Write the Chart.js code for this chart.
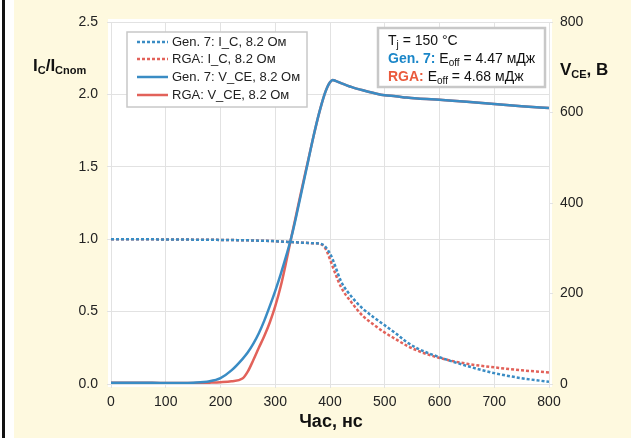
<!DOCTYPE html>
<html>
<head>
<meta charset="utf-8">
<script src="https://cdn.jsdelivr.net/npm/chart.js@4.4.1/dist/chart.umd.min.js"></script>
<style>
  html, body { margin: 0; padding: 0; background: #fef9df; }
  #wrap { width: 631px; height: 438px; position: relative; }
</style>
</head>
<body>
<div id="wrap"><canvas id="chart" width="631" height="438"></canvas></div>
<script>
// Час, нс
const timeNs = [0, 50, 100, 150, 180, 200, 220, 240, 250, 260, 270, 280, 290, 300, 310, 320, 330, 340, 350, 360,
                370, 380, 390, 395, 400, 405, 410, 420, 440, 460, 480, 500, 520, 540, 560, 600, 650, 700, 750, 800];

// I_C / I_Cnom
const gen7Ic = [1.0, 1.0, 0.998, 0.997, 0.996, 0.995, 0.994, 0.993, 0.992, 0.991, 0.99, 0.989, 0.988, 0.986, 0.984, 0.982, 0.98, 0.978, 0.976, 0.974,
                0.972, 0.97, 0.955, 0.93, 0.9, 0.86, 0.81, 0.71, 0.6, 0.52, 0.46, 0.405, 0.35, 0.29, 0.245, 0.185, 0.125, 0.075, 0.04, 0.015];
const rgaIc  = [1.0, 1.0, 0.998, 0.997, 0.996, 0.995, 0.994, 0.993, 0.992, 0.991, 0.99, 0.989, 0.988, 0.986, 0.984, 0.982, 0.98, 0.978, 0.976, 0.974,
                0.972, 0.97, 0.945, 0.91, 0.86, 0.81, 0.76, 0.67, 0.56, 0.47, 0.41, 0.355, 0.31, 0.265, 0.23, 0.18, 0.14, 0.115, 0.095, 0.08];

// V_CE, B
const gen7Vce = [3, 3, 2, 3, 6, 13, 30, 55, 70, 89, 112, 140, 172, 206, 243, 283, 327, 380, 436, 492,
                 548, 598, 640, 656, 667, 672, 670, 665, 656, 649, 643, 638, 636, 633, 631, 628, 624, 619, 614, 610];
const rgaVce  = [3, 3, 2, 2, 3, 4, 6, 12, 28, 53, 80, 106, 136, 172, 216, 270, 328, 384, 440, 494,
                 548, 598, 640, 656, 667, 672, 670, 665, 656, 649, 643, 638, 636, 633, 631, 628, 624, 619, 614, 610];

const xTicks = [0, 100, 200, 300, 400, 500, 600, 700, 800];
const leftTicks = [0, 0.5, 1.0, 1.5, 2.0, 2.5];
const rightTicks = [0, 200, 400, 600, 800];

const seriesNames = ['Gen. 7: I_C, 8.2 Ом', 'RGA: I_C, 8.2 Ом', 'Gen. 7: V_CE, 8.2 Ом', 'RGA: V_CE, 8.2 Ом'];

const BLUE = '#3a8cc4';
const RED = '#e2625a';
const FONT = '"Liberation Sans Narrow", "Liberation Sans", Arial, sans-serif';

const pts = (vals) => timeNs.map((t, i) => ({ x: t, y: vals[i] }));

// фон, белое поле графика, полоса слева
const backgroundPlugin = {
    id: 'bg',
    beforeDraw(chart) {
        const { ctx, chartArea: a } = chart;
        ctx.save();
        ctx.fillStyle = '#fef9df';
        ctx.fillRect(0, 0, chart.width, chart.height);
        ctx.fillStyle = '#ffffff';
        ctx.fillRect(0, 0, 14, chart.height);
        ctx.fillStyle = '#111';
        ctx.fillRect(2, 0, 3, chart.height);
        ctx.fillStyle = '#ffffff';
        ctx.fillRect(a.left - 3, a.top - 3, a.right - a.left + 6, a.bottom - a.top + 6);
        ctx.restore();
    }
};

// текст с нижними индексами
function richText(ctx, x, y, parts) {
    let cx = x;
    parts.forEach(p => {
        ctx.font = p.font;
        ctx.fillStyle = p.color || '#111';
        ctx.fillText(p.text, cx, y + (p.dy || 0));
        cx += ctx.measureText(p.text).width;
    });
}

const overlayPlugin = {
    id: 'overlay',
    afterDraw(chart) {
        const { ctx } = chart;
        ctx.save();
        ctx.textBaseline = 'alphabetic';
        ctx.textAlign = 'left';

        // подписи осей
        const b16 = 'bold 17px ' + FONT, b11 = 'bold 11px ' + FONT;
        richText(ctx, 33, 71, [
            { text: 'I', font: b16 }, { text: 'C', font: b11, dy: 3 },
            { text: '/I', font: b16 }, { text: 'Cnom', font: b11, dy: 3 }
        ]);
        richText(ctx, 560, 75, [
            { text: 'V', font: b16 }, { text: 'CE', font: b11, dy: 3 }, { text: ', B', font: b16 }
        ]);
        ctx.font = 'bold 18px ' + FONT;
        ctx.textAlign = 'center';
        ctx.fillStyle = '#111';
        ctx.fillText('Час, нс', 331, 427);
        ctx.textAlign = 'left';

        // легенда
        ctx.fillStyle = '#ffffff';
        ctx.strokeStyle = '#c8c8c8';
        ctx.lineWidth = 1.5;
        ctx.fillRect(127, 32, 180, 75);
        ctx.strokeRect(127, 32, 180, 75);
        const rows = [42, 59, 77, 95];
        chart.data.datasets.forEach((ds, i) => {
            const y = rows[i];
            ctx.beginPath();
            ctx.strokeStyle = ds.borderColor;
            ctx.lineWidth = ds.borderWidth;
            ctx.setLineDash(ds.borderDash || []);
            ctx.moveTo(137, y);
            ctx.lineTo(168, y);
            ctx.stroke();
            ctx.setLineDash([]);
            ctx.font = '13px ' + FONT;
            ctx.fillStyle = '#222';
            ctx.textBaseline = 'middle';
            ctx.fillText(ds.label, 172, y);
        });
        ctx.textBaseline = 'alphabetic';

        // параметры
        ctx.fillStyle = '#ffffff';
        ctx.strokeStyle = '#c8c8c8';
        ctx.fillRect(378, 28, 167, 59);
        ctx.strokeRect(378, 28, 167, 59);
        const r14 = '14px ' + FONT, r10 = '10px ' + FONT, bold14 = 'bold 14px ' + FONT;
        richText(ctx, 388, 45, [
            { text: 'T', font: r14 }, { text: 'j', font: r10, dy: 3 }, { text: ' = 150 °C', font: r14 }
        ]);
        richText(ctx, 388, 63, [
            { text: 'Gen. 7: ', font: bold14, color: '#1a86c8' },
            { text: 'E', font: r14 }, { text: 'off', font: r10, dy: 3 }, { text: ' = 4.47 мДж', font: r14 }
        ]);
        richText(ctx, 388, 81, [
            { text: 'RGA: ', font: bold14, color: '#ea5a3c' },
            { text: 'E', font: r14 }, { text: 'off', font: r10, dy: 3 }, { text: ' = 4.68 мДж', font: r14 }
        ]);
        ctx.restore();
    }
};

const tickFont = { family: FONT, size: 14 };

new Chart(document.getElementById('chart'), {
    type: 'line',
    data: {
        datasets: [
            { label: seriesNames[0], data: pts(gen7Ic), yAxisID: 'y', borderColor: BLUE, borderWidth: 2.5, borderDash: [3, 2] },
            { label: seriesNames[1], data: pts(rgaIc), yAxisID: 'y', borderColor: RED, borderWidth: 2.5, borderDash: [3, 2] },
            { label: seriesNames[2], data: pts(gen7Vce), yAxisID: 'y2', borderColor: BLUE, borderWidth: 2.5 },
            { label: seriesNames[3], data: pts(rgaVce), yAxisID: 'y2', borderColor: RED, borderWidth: 2.5 }
        ]
    },
    options: {
        responsive: false,
        animation: false,
        layout: { padding: { top: 22, left: 0, right: 0, bottom: 0 } },
        elements: {
            point: { radius: 0 },
            line: { cubicInterpolationMode: 'monotone', fill: false }
        },
        plugins: { legend: { display: false }, tooltip: { enabled: false } },
        scales: {
            x: {
                type: 'linear', min: 0, max: 800,
                afterBuildTicks: s => { s.ticks = xTicks.map(v => ({ value: v })); },
                afterFit: s => { s.height = 54; },
                grid: { color: '#e2e2e2', tickLength: 4 },
                border: { display: false },
                ticks: { color: '#222', font: tickFont, padding: 6, maxRotation: 0 }
            },
            y: {
                position: 'left', min: 0, max: 2.5,
                afterBuildTicks: s => { s.ticks = leftTicks.map(v => ({ value: v })); },
                afterFit: s => { s.width = 111; },
                grid: { color: '#e2e2e2', tickLength: 4 },
                border: { display: false },
                ticks: { color: '#222', font: tickFont, padding: 9, callback: v => v.toFixed(1) }
            },
            y2: {
                position: 'right', min: 0, max: 800,
                afterBuildTicks: s => { s.ticks = rightTicks.map(v => ({ value: v })); },
                afterFit: s => { s.width = 82; },
                grid: { drawOnChartArea: false, color: '#e2e2e2', tickLength: 4 },
                border: { display: false },
                ticks: { color: '#222', font: tickFont, padding: 7 }
            }
        }
    },
    plugins: [backgroundPlugin, overlayPlugin]
});
</script>
</body>
</html>
